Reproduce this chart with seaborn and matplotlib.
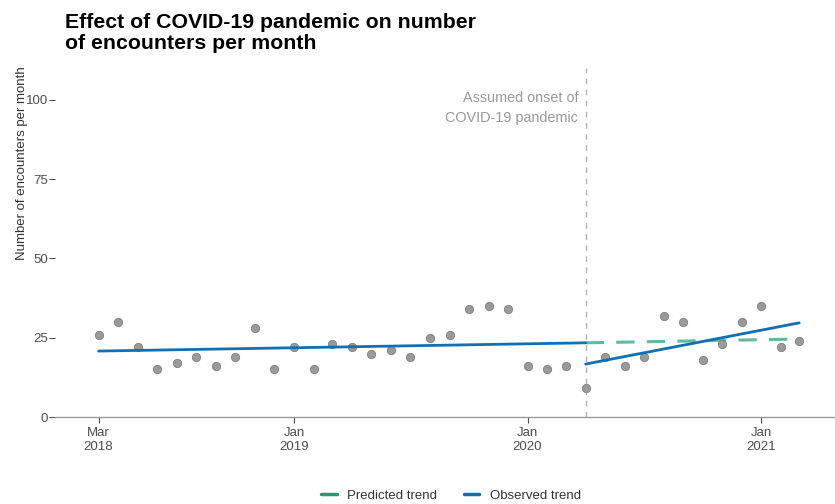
import pandas as pd
import numpy as np
import matplotlib
matplotlib.use('Agg')
import matplotlib.pyplot as plt
from matplotlib.lines import Line2D
import seaborn as sns

sns.set_theme(style='white')
plt.rcParams['font.family'] = ['Liberation Sans', 'DejaVu Sans']

# Monthly encounters, Mar 2018 - Mar 2021
months = pd.date_range('2018-03-01', '2021-03-01', freq='MS')
encounters = [26, 30, 22, 15, 17, 19, 16, 19, 28, 15,
              22, 15, 23, 22, 20, 21, 19, 25, 26, 34, 35, 34,
              16, 15, 16, 9, 19, 16, 19, 32, 30, 18, 23, 30,
              35, 22, 24]

# Trend line end points
pre_dates = ['2018-03-01', '2020-04-01']
pre_values = [20.8, 23.4]
post_dates = ['2020-04-01', '2021-03-01']
post_values = [16.7, 29.7]
pred_dates = ['2020-04-01', '2021-03-01']
pred_values = [23.4, 24.6]

onset = pd.Timestamp('2020-04-01')
tick_dates = ['2018-03-01', '2019-01-01', '2020-01-01', '2021-01-01']
tick_labels = ['Mar\n2018', 'Jan\n2019', 'Jan\n2020', 'Jan\n2021']

blue = '#1170b4'
green = '#1b9e77'

df = pd.DataFrame({'month': months, 'encounters': encounters})

fig = plt.figure(figsize=(8.35, 5.04), dpi=100)
ax = fig.add_axes([0.066, 0.1726, 0.934, 0.692])

sns.scatterplot(data=df, x='month', y='encounters', ax=ax, color='#9a9a9a',
                edgecolor='#808080', linewidth=0.6, s=36, zorder=3)

ax.axvline(onset, color='#b0b0b0', linestyle=(0, (4, 4)), linewidth=1, zorder=1)

sns.lineplot(x=pd.to_datetime(pred_dates), y=pred_values, ax=ax, color=green,
             alpha=0.7, linewidth=2.2, linestyle=(0, (6, 4)), zorder=2)
sns.lineplot(x=pd.to_datetime(pre_dates), y=pre_values, ax=ax, color=blue,
             linewidth=2, zorder=4)
sns.lineplot(x=pd.to_datetime(post_dates), y=post_values, ax=ax, color=blue,
             linewidth=2, zorder=4)

ax.text(onset - pd.Timedelta(days=12), 97.5, 'Assumed onset of\nCOVID-19 pandemic',
        ha='right', va='center', color='#999999', fontsize=10.4, linespacing=1.55)

ax.set_xlim(pd.Timestamp('2017-12-23'), pd.Timestamp('2021-04-26'))
ax.set_ylim(0, 110)
ax.set_yticks([0, 25, 50, 75, 100])
ax.set_xticks(pd.to_datetime(tick_dates))
ax.set_xticklabels(tick_labels)
ax.tick_params(axis='both', colors='#4d4d4d', labelsize=9.5, length=4,
               width=0.8, left=True, bottom=True)
ax.tick_params(axis='y', pad=1)
for s in ['top', 'right', 'left']:
    ax.spines[s].set_visible(False)
ax.spines['bottom'].set_color('#999999')
ax.spines['bottom'].set_linewidth(1)
ax.set_xlabel('')
ax.set_ylabel('Number of encounters per month', fontsize=9.5, color='#333333')
ax.yaxis.set_label_coords(-0.035, 0.728)

fig.text(0.078, 0.895, 'Effect of COVID-19 pandemic on number\nof encounters per month',
         fontsize=15.3, fontweight='bold', color='black', va='bottom', linespacing=1.15)

handles = [Line2D([0], [0], color=green, linewidth=2.5),
           Line2D([0], [0], color=blue, linewidth=2.5)]
fig.legend(handles, ['Predicted trend', 'Observed trend'], loc='center',
           bbox_to_anchor=(0.54, 0.016), ncol=2, frameon=False, fontsize=9.5,
           handlelength=1.2, columnspacing=2, labelcolor='#333333')

fig.savefig('out.png', dpi=100)
